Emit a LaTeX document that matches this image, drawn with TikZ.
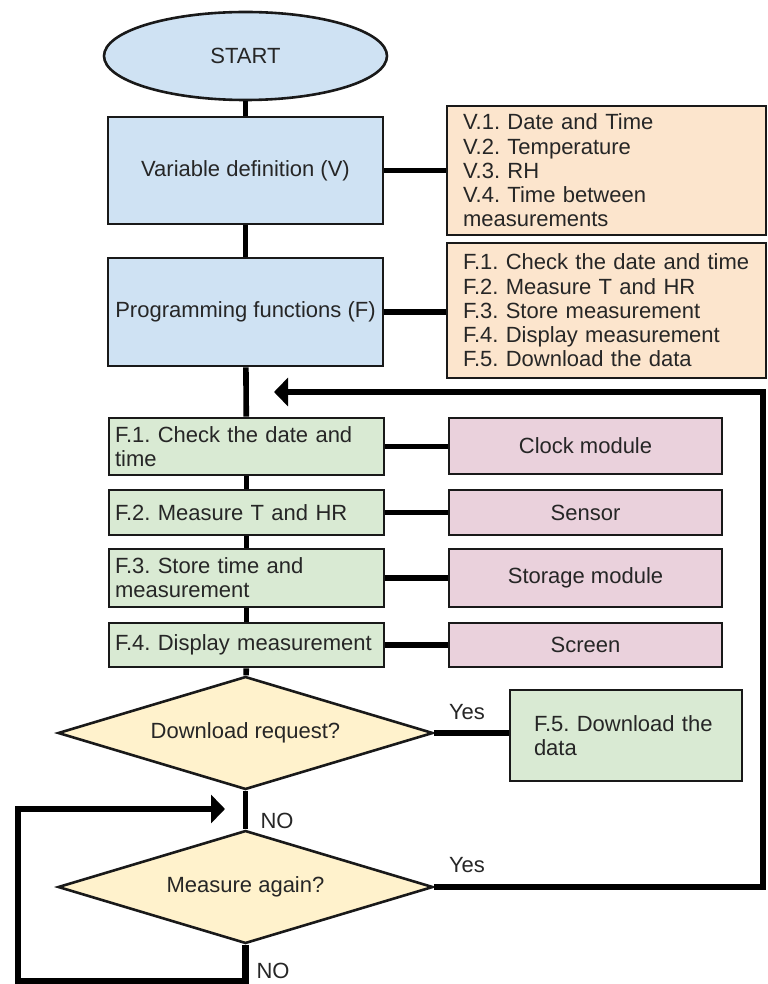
\documentclass[tikz,border=0pt]{standalone}
\usepackage{fontspec}
\setmainfont{Liberation Sans}
\usetikzlibrary{shapes.geometric}
\usetikzlibrary{arrows.meta}
\definecolor{pastelblue}{HTML}{CFE2F3}
\definecolor{pastelorange}{HTML}{FCE5CD}
\definecolor{pastelgreen}{HTML}{D9EAD3}
\definecolor{pastelpink}{HTML}{EAD1DC}
\definecolor{pastelyellow}{HTML}{FFF2CC}
\frenchspacing
\hyphenpenalty=10000
\exhyphenpenalty=10000

\begin{document}
\begin{tikzpicture}[x=0.5pt, y=-0.5pt,
  font=\fontsize{11}{12.1}\selectfont, text=black!85,
  box/.style={rectangle, draw=black!90, line width=1.3pt, inner sep=0pt},
  stage/.style={box, fill=pastelblue, minimum width=137.5pt, align=center},
  note/.style={box, fill=pastelorange, minimum width=159.5pt, text width=143.5pt,
               inner xsep=8pt, align=left},
  task/.style={box, fill=pastelgreen, minimum width=137.5pt, text width=131.5pt,
               inner xsep=3pt, align=left},
  device/.style={box, fill=pastelpink, minimum width=136.5pt, align=center},
  test/.style={diamond, draw=black!90, fill=pastelyellow, line width=1.3pt, aspect=3.3,
               inner sep=0pt, minimum width=187.5pt, minimum height=56.5pt},
  link/.style={line width=2.8pt},
  loopback/.style={line width=3.2pt, -{Triangle[length=7pt,width=14pt]}}]

  \useasboundingbox (0,0) rectangle (767,984);

  % start and definitions
  \node[ellipse, draw=black!90, fill=pastelblue, line width=1.3pt, inner sep=0pt,
        minimum width=141.5pt, minimum height=44pt] (start) at (245.5,56) {START};
  \node[stage, minimum height=53.5pt] (vardef) at (245.5,170.5) {Variable definition (V)};
  \node[stage, minimum height=54pt] (progfun) at (245.5,312) {Programming functions (F)};

  \node[note, minimum height=64.5pt] (vlist) at (606.5,170.5)
        {V.1. Date and Time\\V.2. Temperature\\V.3. RH\\V.4. Time between measurements};
  \node[note, minimum height=67.5pt] (flist) at (606.5,310.5)
        {F.1. Check the date and time\\F.2. Measure T and HR\\F.3. Store measurement\\
         F.4. Display measurement\\F.5. Download the data};

  % measuring loop
  \node[task, minimum height=28.5pt] (check) at (246.5,446.5) {F.1. Check the date and time};
  \node[task, minimum height=22.5pt] (measure) at (246.5,512.5) {F.2. Measure T and HR};
  \node[task, minimum height=29pt] (store) at (246.5,578) {F.3. Store time and measurement};
  \node[task, minimum height=22pt] (display) at (246.5,645) {F.4. Display measurement};

  \node[device, minimum height=28pt] (clock) at (585.5,446) {Clock module};
  \node[device, minimum height=22.5pt] (sensor) at (585.5,512.5) {Sensor};
  \node[device, minimum height=29pt] (storage) at (585.5,578) {Storage module};
  \node[device, minimum height=22pt] (screen) at (585.5,645) {Screen};

  % decisions
  \node[test] (download) at (245.5,733) {Download request?};
  \node[task, minimum width=116pt, text width=92pt, inner xsep=12pt, minimum height=45.5pt]
        (getdata) at (626,735.5) {F.5. Download the data};
  \node[test] (again) at (245.5,887) {Measure again?};

  \node (yesdl) at (467,712) {Yes};
  \node (nodl) at (277,821) {NO};
  \node (yesagain) at (467,865) {Yes};
  \node (noagain) at (273,971) {NO};

  \coordinate (rightturn) at (763,392);
  \coordinate (righttip) at (274,392);
  \coordinate (bottomturn) at (18,981);
  \coordinate (leftturn) at (18,809);
  \coordinate (lefttip) at (225,809);

  \begin{scope}[link]
    \draw (start) -- (vardef);
    \draw (vardef) -- (progfun);
    \draw (vardef) -- (vlist);
    \draw (progfun.east) -- (progfun.east -| flist.west);
    \draw (progfun) -- (check);
    \draw (check) -- (measure);
    \draw (measure) -- (store);
    \draw (store) -- (display);
    \draw (display) -- (download);
    \draw (download) -- (again);
    \draw (check.east) -- (check.east -| clock.west);
    \draw (measure.east) -- (measure.east -| sensor.west);
    \draw (store.east) -- (store.east -| storage.west);
    \draw (display.east) -- (display.east -| screen.west);
    \draw (download.east) -- (download.east -| getdata.west);
  \end{scope}

  \draw[loopback] (again.east) -| (rightturn) -- (righttip);
  \draw[loopback] (again.south) |- (bottomturn) -- (leftturn) -- (lefttip);
\end{tikzpicture}
\end{document}
